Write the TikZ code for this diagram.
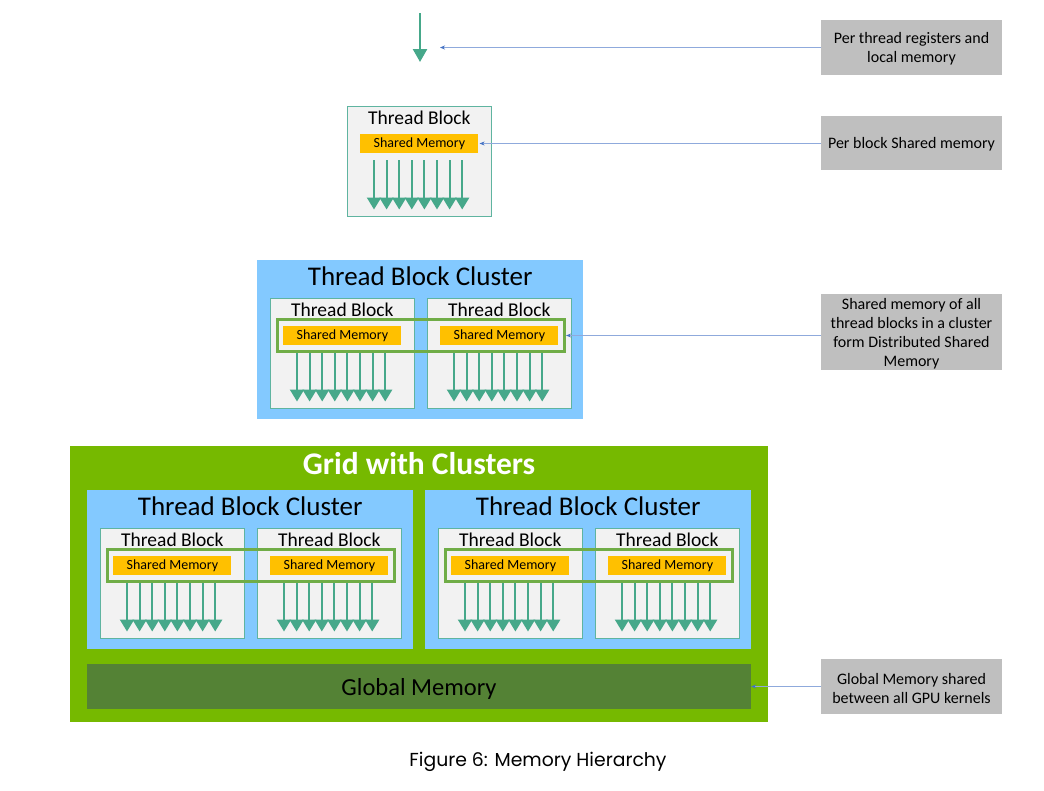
\documentclass[tikz,border=0pt]{standalone}
\usepackage{fontspec}
\setmainfont{Carlito}
\newfontfamily\capfont{Poppins}
\usetikzlibrary{arrows.meta,calc,fit}
\definecolor{thrc}{RGB}{70,168,138}
\definecolor{blkfill}{RGB}{242,242,242}
\definecolor{blkline}{RGB}{95,180,160}
\definecolor{smfill}{RGB}{255,192,0}
\definecolor{dsm}{RGB}{112,173,71}
\definecolor{clfill}{RGB}{131,201,255}
\definecolor{gridfill}{RGB}{118,185,0}
\definecolor{gmfill}{RGB}{84,130,53}
\definecolor{lblfill}{RGB}{191,191,191}
\definecolor{connline}{RGB}{143,170,220}
\definecolor{conntip}{RGB}{68,114,196}
\tikzset{
  thr/.style={draw=thrc, line width=2pt, -{Triangle[width=14pt,length=12pt]}},
  tblk/.style={draw=blkline, line width=0.8pt, fill=blkfill, minimum width=144pt, minimum height=110pt, inner sep=0pt, anchor=north west},
  tbtitle/.style={inner sep=0pt, font=\fontsize{19.5}{21}\selectfont},
  smem/.style={fill=smfill, minimum width=118pt, minimum height=19pt, inner sep=0pt, font=\fontsize{14}{15}\selectfont},
  dsmbox/.style={draw=dsm, line width=3pt, inner xsep=6pt, inner ysep=6pt},
  clbox/.style={fill=clfill, minimum width=326pt, minimum height=159pt, inner sep=0pt, anchor=north west},
  cltitle/.style={inner sep=0pt, font=\fontsize{27}{29}\selectfont},
  lblbox/.style={fill=lblfill, minimum width=181pt, inner sep=0pt},
  lbltext/.style={inner sep=0pt, align=center, font=\fontsize{16}{19}\selectfont},
  conn/.style={draw=connline, line width=0.8pt, -{Stealth[length=5pt,width=4pt,color=conntip]}},
}
\newcommand\TBlk[3]{%
  \node[tblk] (#1) at (#2,#3) {};
  \node[tbtitle] (#1-t) at ($(#1.north)+(0,12)$) {Thread Block};
  \node[smem] (#1-s) at ($(#1.north)+(0,37.5)$) {Shared Memory};
  \foreach \i in {0,...,7}
    \draw[thr] ($(#1.north west)+(27+\i*12.6,54)$) -- ($(#1.north west)+(27+\i*12.6,103.5)$);
}
\newcommand\Clus[3]{%
  \node[clbox] (#1) at (#2,#3) {};
  \node[cltitle] (#1-t) at ($(#1.north)+(0,16.5)$) {Thread Block Cluster};
  \TBlk{#1a}{#2+13}{#3+38}
  \TBlk{#1b}{#2+170}{#3+38}
  \node[dsmbox, fit=(#1a-s) (#1b-s)] (#1-d) {};
}
\begin{document}
\begin{tikzpicture}[x=1pt,y=-1pt]
\fill[white] (0,0) rectangle (1044,790);
\useasboundingbox (0,0) rectangle (1044,790);

% per-thread arrow
\coordinate (ta) at (420,13);
\coordinate (tb) at (420,62);
\draw[draw=thrc, line width=2.5pt, -{Triangle[width=14pt,length=13pt]}] (ta) -- (tb);

% single thread block
\TBlk{sb}{347}{106}

% single cluster
\Clus{sc}{257}{260}

% grid
\node[fill=gridfill, minimum width=698pt, minimum height=276pt, inner sep=0pt, anchor=north west] (grid) at (70,446) {};
\node[inner sep=0pt, text=white, font=\bfseries\fontsize{31.5}{33}\selectfont] (grid-t) at (419,464) {Grid with Clusters};
\Clus{ca}{87}{490}
\Clus{cb}{425}{490}
\node[fill=gmfill, minimum width=664pt, minimum height=45pt, inner sep=0pt] (gm) at (419,686.5) {};
\node[inner sep=0pt, font=\fontsize{24.5}{26}\selectfont] (gm-t) at (419,688.5) {Global Memory};

% labels
\node[lblbox, minimum height=55pt] (l1) at (911.5,47.5) {};
\node[lbltext] (l1-t) at (911.5,49) {Per thread registers and\\local memory};
\node[lblbox, minimum height=54pt] (l2) at (911.5,143) {};
\node[lbltext] (l2-t) at (911.5,144.5) {Per block Shared memory};
\node[lblbox, minimum height=76pt] (l3) at (911.5,332) {};
\node[lbltext] (l3-t) at (911.5,333.5) {Shared memory of all\\thread blocks in a cluster\\form Distributed Shared\\Memory};
\node[lblbox, minimum height=55pt] (l4) at (911.5,686.5) {};
\node[lbltext] (l4-t) at (911.5,688) {Global Memory shared\\between all GPU kernels};

\coordinate (c1) at (440,47.5);
\draw[conn] (l1.west) -- (c1);
\draw[conn] (l2.west |- sb-s.east) -- ($(sb-s.east)+(1,0)$);
\draw[conn] (l3.west |- sc-d.east) -- (sc-d.east);
\draw[conn] (l4.west |- gm.east) -- (gm.east);

% caption
\node[inner sep=0pt, font=\capfont\fontsize{18.8}{21}\selectfont] (cap) at (538,762) {Figure 6: Memory Hierarchy};
\end{tikzpicture}
\end{document}
